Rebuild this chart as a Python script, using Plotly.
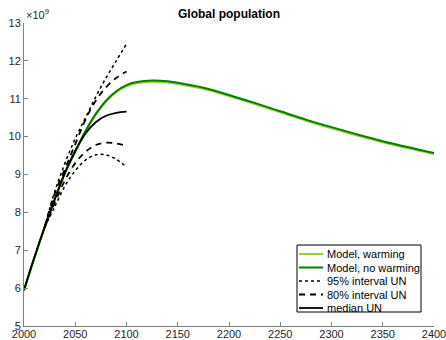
import plotly.graph_objects as go

# Data (population in billions)
years_model = [2000, 2010, 2020, 2030, 2040, 2050, 2060, 2070, 2080, 2090, 2100, 2110, 2125,
               2140, 2150, 2175, 2200, 2225, 2250, 2275, 2300, 2325, 2350, 2375, 2400]
model_no_warming = [5.95, 6.8, 7.6, 8.35, 9.05, 9.62, 10.15, 10.6, 10.95, 11.2, 11.36, 11.44, 11.48,
                    11.46, 11.42, 11.29, 11.1, 10.89, 10.67, 10.45, 10.25, 10.06, 9.88, 9.72, 9.57]
model_warming = [v - 0.03 for v in model_no_warming]

years_un = [2000, 2010, 2020, 2030, 2040, 2050, 2060, 2070, 2080, 2090, 2100]
median_un = [5.95, 6.8, 7.6, 8.35, 9.05, 9.62, 10.08, 10.38, 10.55, 10.63, 10.66]

years_int = [2020, 2030, 2040, 2050, 2060, 2070, 2080, 2090, 2100]
upper95 = [7.6, 8.55, 9.3, 9.95, 10.5, 11.05, 11.55, 12.0, 12.45]
lower95 = [7.6, 8.15, 8.7, 9.1, 9.38, 9.52, 9.52, 9.4, 9.2]
upper80 = [7.6, 8.5, 9.15, 9.8, 10.45, 10.95, 11.3, 11.55, 11.72]
lower80 = [7.6, 8.25, 8.85, 9.3, 9.6, 9.78, 9.84, 9.82, 9.76]

x_ticks = [2000, 2050, 2100, 2150, 2200, 2250, 2300, 2350, 2400]
y_ticks = [5, 6, 7, 8, 9, 10, 11, 12, 13]

legend_labels = ["Model, warming", "Model, no warming", "95% interval UN", "80% interval UN", "median UN"]

FONT = "Liberation Sans, Arial, Helvetica"
styles = {
    "warm": dict(color="#9ACD32", width=2),
    "nowarm": dict(color="#008000", width=2),
    "p95": dict(color="black", width=1.5, dash="dot"),
    "p80": dict(color="black", width=1.8, dash="6px,5px"),
    "med": dict(color="black", width=1.8),
}

fig = go.Figure()
fig.add_trace(go.Scatter(x=years_model, y=model_warming, mode="lines", name=legend_labels[0],
                         line=dict(shape="spline", **styles["warm"])))
fig.add_trace(go.Scatter(x=years_model, y=model_no_warming, mode="lines", name=legend_labels[1],
                         line=dict(shape="spline", **styles["nowarm"])))
fig.add_trace(go.Scatter(x=years_int, y=upper95, mode="lines", name=legend_labels[2],
                         line=dict(shape="spline", **styles["p95"])))
fig.add_trace(go.Scatter(x=years_int, y=lower95, mode="lines", name=legend_labels[2],
                         line=dict(shape="spline", **styles["p95"])))
fig.add_trace(go.Scatter(x=years_int, y=upper80, mode="lines", name=legend_labels[3],
                         line=dict(shape="spline", **styles["p80"])))
fig.add_trace(go.Scatter(x=years_int, y=lower80, mode="lines", name=legend_labels[3],
                         line=dict(shape="spline", **styles["p80"])))
fig.add_trace(go.Scatter(x=years_un, y=median_un, mode="lines", name=legend_labels[4],
                         line=dict(shape="spline", **styles["med"])))

axis_common = dict(showgrid=False, zeroline=False, showline=True, linecolor="#808080", linewidth=1,
                   ticks="inside", ticklen=4, tickcolor="#808080", automargin=False,
                   ticklabeloverflow="allow",
                   tickfont=dict(family=FONT, size=11, color="#262626"))

fig.update_xaxes(range=[2000, 2400], tickvals=x_ticks, ticklabelstandoff=-2, **axis_common)
fig.update_yaxes(range=[5, 13], tickvals=y_ticks, **axis_common)

# Manual legend (MATLAB-style compact box), positions in pixels converted to paper coords
L, R, T, B = 24, 434, 23, 326
def px(xp):
    return (xp - L) / (R - L)
def py(yp):
    return (B - yp) / (B - T)

shapes = [dict(type="rect", xref="paper", yref="paper", x0=px(297), x1=px(421), y0=py(312), y1=py(245),
               line=dict(color="black", width=1), fillcolor="white", layer="above")]
annotations = [dict(text="×10<sup>9</sup>", xref="paper", yref="paper", x=0, y=1,
                    xanchor="left", yanchor="bottom", showarrow=False,
                    font=dict(family=FONT, size=11, color="#262626"))]
keys = ["warm", "nowarm", "p95", "p80", "med"]
item_y = [254, 267.5, 281, 294.5, 308]
for k, lab, yy in zip(keys, legend_labels, item_y):
    shapes.append(dict(type="line", xref="paper", yref="paper", x0=px(299), x1=px(323),
                       y0=py(yy), y1=py(yy), line=styles[k], layer="above"))
    annotations.append(dict(text=lab, xref="paper", yref="paper", x=px(325), y=py(yy),
                            xanchor="left", yanchor="middle", showarrow=False,
                            font=dict(family=FONT, size=11, color="black")))

fig.update_layout(
    width=446, height=340,
    margin=dict(l=L, r=446 - R, t=T, b=340 - B),
    plot_bgcolor="white", paper_bgcolor="white",
    showlegend=False,
    title=dict(text="<b>Global population</b>", x=0.5, xanchor="center", xref="paper",
               y=1 - 14 / 340, yanchor="middle",
               font=dict(family=FONT, size=12, color="black")),
    shapes=shapes,
    annotations=annotations,
)

fig.write_html("out.html", config={"displayModeBar": False},
               post_script="document.body.style.margin='0';document.body.style.overflow='hidden';")
